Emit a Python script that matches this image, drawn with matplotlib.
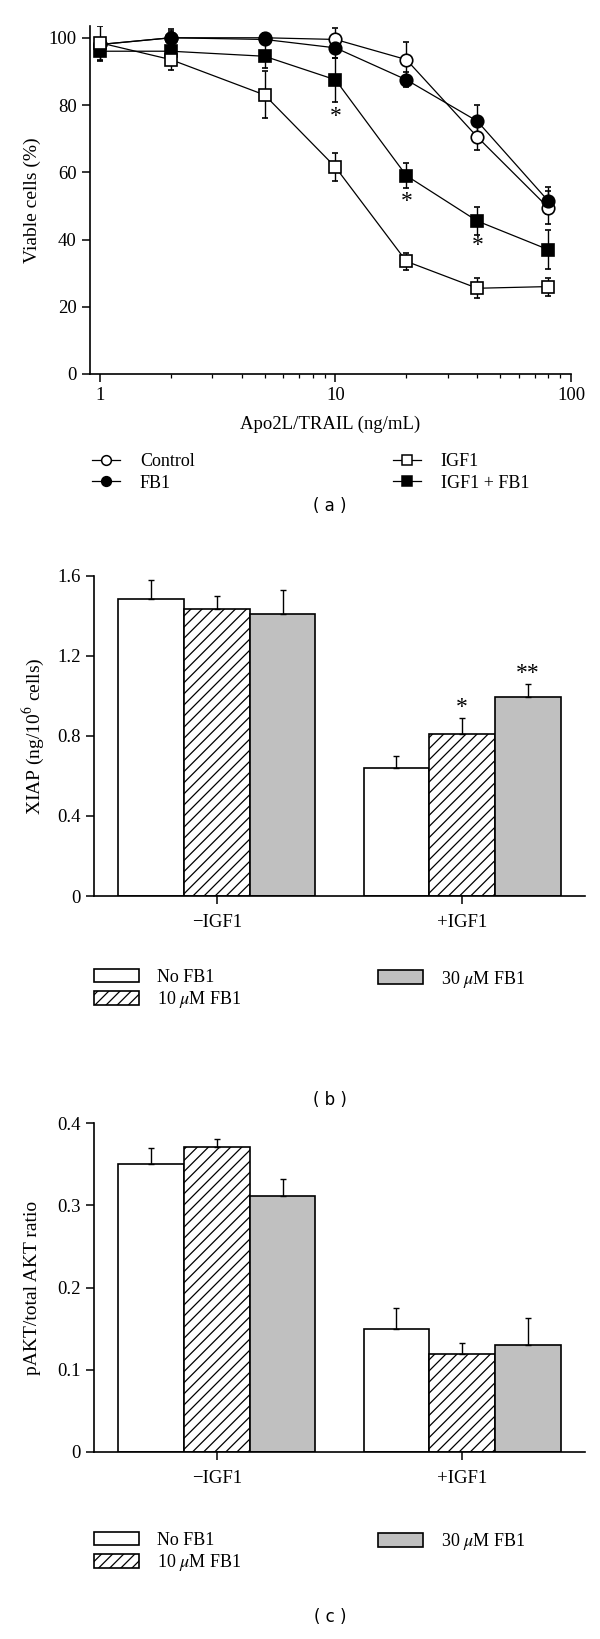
import numpy as np
import matplotlib.pyplot as plt
from matplotlib.lines import Line2D
from matplotlib.patches import Patch
from matplotlib.ticker import NullFormatter

plt.rcParams['font.family'] = ['Liberation Serif', 'DejaVu Serif']
plt.rcParams['mathtext.fontset'] = 'stix'
plt.rcParams['hatch.linewidth'] = 0.9

# (a) viabilidade vs dose de Apo2L/TRAIL
trail_dose = [1, 2, 5, 10, 20, 40, 80]
control = [98, 100, 100, 99.5, 93.5, 70.5, 49.5]
control_err = [2, 2, 1.5, 3.5, 5.2, 4, 5]
fb1 = [98, 100, 99.5, 97, 87.5, 75.2, 51.5]
fb1_err = [2, 2.5, 1.5, 3, 2.2, 4.7, 4]
igf1 = [98.5, 93.5, 83, 61.5, 33.5, 25.5, 26]
igf1_err = [5, 3, 7, 4.2, 2.5, 3, 2.7]
igf1_fb1 = [96, 96, 94.5, 87.5, 59, 45.5, 37]
igf1_fb1_err = [3, 3, 3.5, 6.6, 3.8, 4.3, 5.9]
star_dose = [10, 20, 40]
star_level = [76.7, 51.3, 38.1]

# (b) e (c) barras
groups = ['\u2212IGF1', '+IGF1']
fb1_levels = ['No FB1', r'10 $\mu$M FB1', r'30 $\mu$M FB1']
xiap = [[1.485, 0.641], [1.435, 0.807], [1.41, 0.992]]
xiap_err = [[0.095, 0.056], [0.065, 0.084], [0.12, 0.066]]
xiap_marks = [(1, 1, '*', 0.94), (1, 2, '**', 1.11)]
pakt = [[0.35, 0.15], [0.371, 0.119], [0.311, 0.13]]
pakt_err = [[0.019, 0.025], [0.01, 0.014], [0.021, 0.033]]

W, H = 600, 1639
fig = plt.figure(figsize=(W / 100, H / 100), dpi=100)


def px_axes(left, top, right, bottom):
    return fig.add_axes([left / W, 1 - bottom / H, (right - left) / W, (bottom - top) / H])


def estilo(ax, ylabel_x_px, left, right):
    for s in ['top', 'right']:
        ax.spines[s].set_visible(False)
    for s in ['left', 'bottom']:
        ax.spines[s].set_linewidth(1.2)
    ax.tick_params(which='major', direction='out', length=6, width=1.1, labelsize=13.5)
    ax.tick_params(which='minor', direction='out', length=3, width=0.9)
    ax.yaxis.set_label_coords((ylabel_x_px - left) / (right - left), 0.5)
    ax.yaxis.label.set_va('center')


# ---------------- (a)
ax = px_axes(90, 26, 571, 374)
series = [
    ('Control', control, control_err, 'o', 'white'),
    ('FB1', fb1, fb1_err, 'o', 'black'),
    ('IGF1 + FB1', igf1_fb1, igf1_fb1_err, 's', 'black'),
    ('IGF1', igf1, igf1_err, 's', 'white'),
]
handles = {}
for nome, y, e, m, fc in series:
    ax.errorbar(trail_dose, y, yerr=e, fmt='-' + m, color='black', mfc=fc, mec='black',
                ms=9, mew=1.2, lw=0.9, elinewidth=1, capsize=2.5, capthick=1)
    handles[nome] = Line2D([], [], color='black', lw=0.9, marker=m, mfc=fc, mec='black',
                           ms=7, mew=1.1)
for xd, yl in zip(star_dose, star_level):
    ax.text(xd, yl, '*', ha='center', va='center', fontsize=17)

ax.set_xscale('log')
ax.set_xlim(0.907, 100)
ax.set_ylim(0, 103.5)
ax.set_xticks([1, 10, 100], ['1', '10', '100'])
ax.xaxis.set_minor_formatter(NullFormatter())
ax.set_yticks(range(0, 101, 20))
ax.set_ylabel('Viable cells (%)', fontsize=14)
ax.set_xlabel('Apo2L/TRAIL (ng/mL)', fontsize=13.5)
estilo(ax, 32, 90, 571)
ax.xaxis.set_label_coords(0.5, -(424 - 374) / 348)
ax.xaxis.label.set_va('center')

leg_kw = dict(frameon=False, fontsize=13, borderpad=0, borderaxespad=0,
              handlelength=1.55, handletextpad=1.1, labelspacing=0.25, loc='center left')
fig.legend([handles['Control'], handles['FB1']], ['Control', 'FB1'],
           bbox_to_anchor=(92 / W, 1 - 472.5 / H), **leg_kw)
fig.legend([handles['IGF1'], handles['IGF1 + FB1']], ['IGF1', 'IGF1 + FB1'],
           bbox_to_anchor=(393 / W, 1 - 472.5 / H), **leg_kw)
fig.text(330 / W, 1 - 506 / H, '( a )', ha='center', va='center', fontsize=12,
         family='DejaVu Sans')

# ---------------- (b) e (c)
fills = ['white', 'white', '#c0c0c0']
hatches = [None, '///', None]


def bar_panel(top, bottom, vals, errs, ylim, yticks, ylabel, marks, leg_y, tag, tag_y):
    ax = px_axes(94, top, 585, bottom)
    x = np.arange(len(groups))
    w = 0.268
    for i, (v, e) in enumerate(zip(vals, errs)):
        ax.bar(x + (i - 1) * w, v, w, yerr=[np.zeros(len(v)), e], color=fills[i],
               hatch=hatches[i], edgecolor='black', linewidth=1.2, capsize=2.5,
               error_kw=dict(elinewidth=1, capthick=1))
    for g, i, txt, yl in marks:
        ax.text(x[g] + (i - 1) * w, yl, txt, ha='center', va='center', fontsize=17)
    ax.set_xlim(-0.5, 1.5)
    ax.set_ylim(*ylim)
    ax.set_xticks(x, groups)
    ax.set_yticks(yticks, ['0' if t == 0 else f'{t:g}' for t in yticks])
    ax.set_ylabel(ylabel, fontsize=14)
    estilo(ax, 33, 94, 585)
    ax.tick_params(axis='x', pad=7)

    patches = [Patch(facecolor=fills[i], edgecolor='black', hatch=hatches[i], lw=1.2)
               for i in range(3)]
    kw = dict(frameon=False, fontsize=13, borderpad=0, borderaxespad=0,
              handlelength=2.5, handleheight=0.8, handletextpad=1.0,
              labelspacing=0.2, loc='center left')
    fig.legend(patches[:2], fb1_levels[:2], bbox_to_anchor=(94 / W, 1 - (leg_y + 10.5) / H), **kw)
    fig.legend(patches[2:], fb1_levels[2:], bbox_to_anchor=(378 / W, 1 - leg_y / H), **kw)
    fig.text(330 / W, 1 - tag_y / H, tag, ha='center', va='center', fontsize=12,
             family='DejaVu Sans')


bar_panel(575.6, 896, xiap, xiap_err, (0, 1.6), [0, 0.4, 0.8, 1.2, 1.6],
          r'XIAP (ng/10$^6$ cells)', xiap_marks, 979, '( b )', 1100)
bar_panel(1123, 1452, pakt, pakt_err, (0, 0.4), [0, 0.1, 0.2, 0.3, 0.4],
          'pAKT/total AKT ratio', [], 1542, '( c )', 1617)

fig.savefig('out.png', dpi=100)
